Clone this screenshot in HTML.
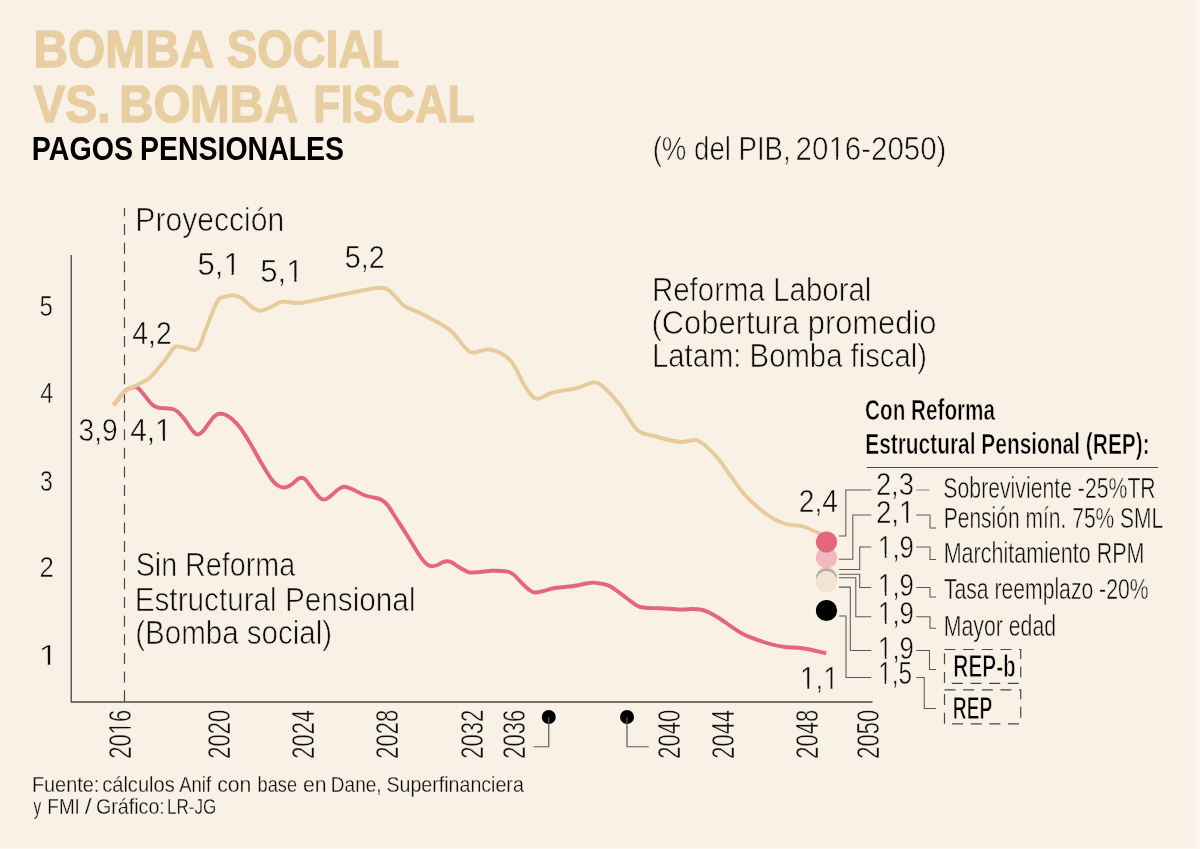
<!DOCTYPE html>
<html><head><meta charset="utf-8"><title>Bomba social vs. bomba fiscal</title>
<style>html,body{margin:0;padding:0;background:#f9f0e6;}svg{display:block;will-change:transform;}text{font-family:"Liberation Sans",sans-serif;}</style>
</head><body>
<svg width="1200" height="849" viewBox="0 0 1200 849">
<rect width="1200" height="849" fill="#f9f0e6"/>
<defs><linearGradient id="eg" x1="0" y1="0" x2="1" y2="0"><stop offset="0" stop-color="#f9f0e6"/><stop offset="0.75" stop-color="#fcf4ef"/><stop offset="1" stop-color="#fdf6f2"/></linearGradient></defs>
<rect x="1192.5" y="0" width="7.5" height="849" fill="url(#eg)"/>
<rect x="0" y="848" width="1200" height="1" fill="#fcf6f0"/>
<path d="M71.25,255 V702 H872.5" fill="none" stroke="#4a4745" stroke-width="1.30"/>
<path d="M124.5,208 V702" fill="none" stroke="#4a4745" stroke-width="1.20" stroke-dasharray="11 7.65" stroke-dashoffset="2.65"/>
<path d="M113.75,405.00 C115.54,402.75 121.79,394.30 124.50,391.50 C127.21,388.70 128.42,388.90 130.00,388.20 C131.58,387.50 132.67,387.33 134.00,387.30 C135.33,387.27 136.17,386.55 138.00,388.00 C139.83,389.45 142.67,393.25 145.00,396.00 C147.33,398.75 149.83,402.57 152.00,404.50 C154.17,406.43 155.67,406.97 158.00,407.60 C160.33,408.23 163.58,408.07 166.00,408.30 C168.42,408.53 170.50,408.38 172.50,409.00 C174.50,409.62 175.92,410.17 178.00,412.00 C180.08,413.83 182.67,417.00 185.00,420.00 C187.33,423.00 190.17,427.67 192.00,430.00 C193.83,432.33 194.75,433.33 196.00,434.00 C197.25,434.67 198.17,434.67 199.50,434.00 C200.83,433.33 201.92,432.50 204.00,430.00 C206.08,427.50 209.83,421.58 212.00,419.00 C214.17,416.42 215.50,415.37 217.00,414.50 C218.50,413.63 219.50,413.72 221.00,413.80 C222.50,413.88 224.17,414.13 226.00,415.00 C227.83,415.87 229.67,416.92 232.00,419.00 C234.33,421.08 237.00,423.50 240.00,427.50 C243.00,431.50 246.25,436.75 250.00,443.00 C253.75,449.25 258.83,458.83 262.50,465.00 C266.17,471.17 269.42,476.58 272.00,480.00 C274.58,483.42 276.25,484.28 278.00,485.50 C279.75,486.72 281.08,487.02 282.50,487.30 C283.92,487.58 284.83,487.79 286.50,487.20 C288.17,486.61 290.58,485.15 292.50,483.75 C294.42,482.35 296.54,479.76 298.00,478.80 C299.46,477.84 300.17,478.00 301.25,478.00 C302.33,478.00 303.25,477.84 304.50,478.80 C305.75,479.76 306.79,481.26 308.75,483.75 C310.71,486.24 314.29,491.32 316.25,493.75 C318.21,496.18 319.25,497.34 320.50,498.30 C321.75,499.26 322.67,499.45 323.75,499.50 C324.83,499.55 325.54,499.43 327.00,498.60 C328.46,497.77 330.67,496.02 332.50,494.50 C334.33,492.98 336.12,490.79 338.00,489.50 C339.88,488.21 341.92,487.03 343.75,486.75 C345.58,486.47 347.12,487.18 349.00,487.80 C350.88,488.43 352.33,489.22 355.00,490.50 C357.67,491.78 361.46,494.25 365.00,495.50 C368.54,496.75 373.33,497.17 376.25,498.00 C379.17,498.83 380.62,499.33 382.50,500.50 C384.38,501.67 385.83,503.00 387.50,505.00 C389.17,507.00 388.75,506.67 392.50,512.50 C396.25,518.33 405.42,532.71 410.00,540.00 C414.58,547.29 417.29,552.29 420.00,556.25 C422.71,560.21 424.38,562.08 426.25,563.75 C428.12,565.42 429.38,566.04 431.25,566.25 C433.12,566.46 435.54,565.71 437.50,565.00 C439.46,564.29 441.33,562.62 443.00,562.00 C444.67,561.38 446.00,561.17 447.50,561.25 C449.00,561.33 450.12,561.54 452.00,562.50 C453.88,563.46 456.58,565.67 458.75,567.00 C460.92,568.33 463.12,569.58 465.00,570.50 C466.88,571.42 467.50,572.25 470.00,572.50 C472.50,572.75 476.25,572.29 480.00,572.00 C483.75,571.71 488.33,570.88 492.50,570.75 C496.67,570.62 501.67,570.75 505.00,571.25 C508.33,571.75 509.58,571.67 512.50,573.75 C515.42,575.83 519.58,580.96 522.50,583.75 C525.42,586.54 527.92,589.04 530.00,590.50 C532.08,591.96 532.92,592.38 535.00,592.50 C537.08,592.62 539.17,592.00 542.50,591.25 C545.83,590.50 549.58,588.92 555.00,588.00 C560.42,587.08 569.83,586.50 575.00,585.75 C580.17,585.00 583.08,584.02 586.00,583.50 C588.92,582.98 590.33,582.63 592.50,582.60 C594.67,582.57 596.08,582.69 599.00,583.30 C601.92,583.91 605.25,583.67 610.00,586.25 C614.75,588.83 623.33,595.71 627.50,598.75 C631.67,601.79 632.92,603.12 635.00,604.50 C637.08,605.88 637.83,606.42 640.00,607.00 C642.17,607.58 644.67,607.79 648.00,608.00 C651.33,608.21 654.67,608.00 660.00,608.25 C665.33,608.50 674.67,609.38 680.00,609.50 C685.33,609.62 688.67,609.00 692.00,609.00 C695.33,609.00 697.33,609.00 700.00,609.50 C702.67,610.00 704.67,610.46 708.00,612.00 C711.33,613.54 714.25,615.12 720.00,618.75 C725.75,622.38 734.58,629.67 742.50,633.75 C750.42,637.83 760.42,641.04 767.50,643.25 C774.58,645.46 779.17,646.17 785.00,647.00 C790.83,647.83 795.62,647.21 802.50,648.25 C809.38,649.29 822.29,652.42 826.25,653.25" fill="none" stroke="#e5667c" stroke-width="3.90" stroke-linejoin="round"/>
<path d="M113.75,405.00 C115.54,402.75 120.96,394.67 124.50,391.50 C128.04,388.33 130.75,388.33 135.00,386.00 C139.25,383.67 145.00,381.83 150.00,377.50 C155.00,373.17 160.83,365.08 165.00,360.00 C169.17,354.92 171.67,349.00 175.00,347.00 C178.33,345.00 181.67,347.50 185.00,348.00 C188.33,348.50 192.50,350.50 195.00,350.00 C197.50,349.50 197.92,349.17 200.00,345.00 C202.08,340.83 204.58,332.33 207.50,325.00 C210.42,317.67 214.58,305.71 217.50,301.00 C220.42,296.29 222.08,297.67 225.00,296.75 C227.92,295.83 232.08,295.17 235.00,295.50 C237.92,295.83 239.58,296.75 242.50,298.75 C245.42,300.75 249.38,305.50 252.50,307.50 C255.62,309.50 258.33,310.75 261.25,310.75 C264.17,310.75 266.46,309.00 270.00,307.50 C273.54,306.00 277.33,302.50 282.50,301.75 C287.67,301.00 293.08,303.79 301.00,303.00 C308.92,302.21 319.75,299.08 330.00,297.00 C340.25,294.92 355.17,291.95 362.50,290.50 C369.83,289.05 370.92,288.77 374.00,288.30 C377.08,287.83 379.00,287.65 381.00,287.70 C383.00,287.75 384.33,287.88 386.00,288.60 C387.67,289.32 389.00,290.18 391.00,292.00 C393.00,293.82 395.67,297.12 398.00,299.50 C400.33,301.88 400.50,303.58 405.00,306.25 C409.50,308.92 417.50,311.54 425.00,315.50 C432.50,319.46 443.33,324.67 450.00,330.00 C456.67,335.33 461.04,343.75 465.00,347.50 C468.96,351.25 469.58,352.17 473.75,352.50 C477.92,352.83 483.96,348.25 490.00,349.50 C496.04,350.75 504.17,353.88 510.00,360.00 C515.83,366.12 520.62,379.79 525.00,386.25 C529.38,392.71 531.67,397.71 536.25,398.75 C540.83,399.79 545.62,394.29 552.50,392.50 C559.38,390.71 570.83,389.67 577.50,388.00 C584.17,386.33 588.33,382.79 592.50,382.50 C596.67,382.21 597.92,382.50 602.50,386.25 C607.08,390.00 614.17,397.71 620.00,405.00 C625.83,412.29 631.67,424.79 637.50,430.00 C643.33,435.21 647.92,434.25 655.00,436.25 C662.08,438.25 672.92,441.29 680.00,442.00 C687.08,442.71 691.67,438.33 697.50,440.50 C703.33,442.67 709.58,449.25 715.00,455.00 C720.42,460.75 725.00,468.33 730.00,475.00 C735.00,481.67 738.75,488.33 745.00,495.00 C751.25,501.67 760.83,510.21 767.50,515.00 C774.17,519.79 779.17,521.88 785.00,523.75 C790.83,525.62 796.67,524.58 802.50,526.25 C808.33,527.92 816.08,531.88 820.00,533.75 C823.92,535.62 825.00,536.88 826.00,537.50" fill="none" stroke="#e8cb9a" stroke-width="3.90" stroke-linejoin="round"/>
<circle cx="548.75" cy="717" r="7" fill="#000"/>
<path d="M548.75,717 V746.75 H533.75" fill="none" stroke="#5c5956" stroke-width="1.20"/>
<circle cx="627" cy="717" r="7" fill="#000"/>
<path d="M627,717 V746.75 H648.75" fill="none" stroke="#5c5956" stroke-width="1.20"/>
<path d="M839,536 H845.8 V490 H871.3" fill="none" stroke="#5c5956" stroke-width="1.05"/>
<path d="M916.3,490 H929.5" fill="none" stroke="#8a8784" stroke-width="1.05"/>
<path d="M839,559.2 H852.8 V515 H871.3" fill="none" stroke="#5c5956" stroke-width="1.05"/>
<path d="M916.3,515 H930 V528 H936" fill="none" stroke="#5c5956" stroke-width="1.05"/>
<path d="M839,569.5 H859.7 V547 H871.3" fill="none" stroke="#5c5956" stroke-width="1.05"/>
<path d="M916.3,547 H930 V559.5 H936" fill="none" stroke="#5c5956" stroke-width="1.05"/>
<path d="M839,574.2 H859.7 V587.5 H871.3" fill="none" stroke="#5c5956" stroke-width="1.05"/>
<path d="M916.3,587.5 H930 V597 H936" fill="none" stroke="#5c5956" stroke-width="1.05"/>
<path d="M839,577.8 H855.8 V616.7 H871.3" fill="none" stroke="#5c5956" stroke-width="1.05"/>
<path d="M916.3,616.7 H930 V628.3 H936" fill="none" stroke="#5c5956" stroke-width="1.05"/>
<path d="M839,587.1 H850.3 V650.5 H871.3" fill="none" stroke="#5c5956" stroke-width="1.05"/>
<path d="M916.3,650.5 H929.5 V669.5 H936" fill="none" stroke="#5c5956" stroke-width="1.05"/>
<path d="M839,616 H846 V677.5 H871.3" fill="none" stroke="#5c5956" stroke-width="1.05"/>
<path d="M916.3,677.5 H924.25 V708.5 H936" fill="none" stroke="#5c5956" stroke-width="1.05"/>
<path d="M866.75,467.5 H1158" fill="none" stroke="#4a4745" stroke-width="1.20"/>
<circle cx="826.5" cy="577.7" r="10.7" fill="#ecd5ae"/>
<circle cx="826.5" cy="578.7" r="10.5" fill="#a9acb0"/>
<circle cx="826.5" cy="581.7" r="10.6" fill="#f2e4d1"/>
<circle cx="826.5" cy="557.8" r="10.6" fill="#f1b8c0"/>
<circle cx="826.5" cy="542.1" r="10.6" fill="#e5667c"/>
<circle cx="826.5" cy="610.5" r="10.6" fill="#000"/>
<rect x="944.5" y="649.5" width="76.2" height="33.8" fill="none" stroke="#4a4745" stroke-width="1.2" stroke-dasharray="11 7.65"/>
<rect x="944.5" y="689.8" width="76.2" height="34" fill="none" stroke="#4a4745" stroke-width="1.2" stroke-dasharray="11 7.65"/>
<g transform="translate(0 67.10)">
<text x="33.45" y="0" font-size="51.00" font-weight="bold" fill="#e8cfa2" textLength="180.91" lengthAdjust="spacingAndGlyphs" stroke="#e8cfa2" stroke-width="1.40" stroke-linejoin="round">BOMBA</text>
</g>
<g transform="translate(0 67.10)">
<text x="226.86" y="0" font-size="51.00" font-weight="bold" fill="#e8cfa2" textLength="172.52" lengthAdjust="spacingAndGlyphs" stroke="#e8cfa2" stroke-width="1.40" stroke-linejoin="round">SOCIAL</text>
</g>
<g transform="translate(0 122.20)">
<text x="33.47" y="0" font-size="51.00" font-weight="bold" fill="#e8cfa2" textLength="77.07" lengthAdjust="spacingAndGlyphs" stroke="#e8cfa2" stroke-width="1.40" stroke-linejoin="round">VS.</text>
</g>
<g transform="translate(0 122.20)">
<text x="119.28" y="0" font-size="51.00" font-weight="bold" fill="#e8cfa2" textLength="178.81" lengthAdjust="spacingAndGlyphs" stroke="#e8cfa2" stroke-width="1.40" stroke-linejoin="round">BOMBA</text>
</g>
<g transform="translate(0 122.20)">
<text x="313.35" y="0" font-size="51.00" font-weight="bold" fill="#e8cfa2" textLength="161.38" lengthAdjust="spacingAndGlyphs" stroke="#e8cfa2" stroke-width="1.40" stroke-linejoin="round">FISCAL</text>
</g>
<g transform="translate(0 159.80)">
<text x="31.78" y="0" font-size="33.20" font-weight="bold" fill="#000" textLength="101.26" lengthAdjust="spacingAndGlyphs">PAGOS</text>
</g>
<g transform="translate(0 159.80)">
<text x="140.04" y="0" font-size="33.20" font-weight="bold" fill="#000" textLength="204.01" lengthAdjust="spacingAndGlyphs">PENSIONALES</text>
</g>
<g transform="translate(0 160.00)">
<text x="652.68" y="0" font-size="33.00" fill="#0e0d0c" textLength="138.03" lengthAdjust="spacingAndGlyphs" stroke="#f9f0e6" stroke-width="0.70">(% del PIB,</text>
</g>
<g transform="translate(0 160.00)">
<text x="795.61" y="0" font-size="33.00" fill="#0e0d0c" textLength="150.78" lengthAdjust="spacingAndGlyphs" stroke="#f9f0e6" stroke-width="0.70">2016-2050)</text>
<rect x="830.12" y="-3.47" width="6.08" height="5.07" fill="#f9f0e6"/>
<rect x="838.01" y="-3.47" width="5.85" height="5.07" fill="#f9f0e6"/>
</g>
<g transform="translate(0 230.75)">
<text x="135.37" y="0" font-size="33.00" fill="#0e0d0c" textLength="148.80" lengthAdjust="spacingAndGlyphs" stroke="#f9f0e6" stroke-width="0.70">Proyección</text>
</g>
<g transform="translate(0 300.50)">
<text x="651.92" y="0" font-size="33.00" fill="#0e0d0c" textLength="219.51" lengthAdjust="spacingAndGlyphs" stroke="#f9f0e6" stroke-width="0.70">Reforma Laboral</text>
</g>
<g transform="translate(0 334.00)">
<text x="651.53" y="0" font-size="33.00" fill="#0e0d0c" textLength="284.97" lengthAdjust="spacingAndGlyphs" stroke="#f9f0e6" stroke-width="0.70">(Cobertura promedio</text>
</g>
<g transform="translate(0 367.25)">
<text x="651.93" y="0" font-size="33.00" fill="#0e0d0c" textLength="275.16" lengthAdjust="spacingAndGlyphs" stroke="#f9f0e6" stroke-width="0.70">Latam: Bomba fiscal)</text>
</g>
<g transform="translate(0 576.00)">
<text x="135.64" y="0" font-size="33.00" fill="#0e0d0c" textLength="159.62" lengthAdjust="spacingAndGlyphs" stroke="#f9f0e6" stroke-width="0.70">Sin Reforma</text>
</g>
<g transform="translate(0 610.50)">
<text x="134.70" y="0" font-size="33.00" fill="#0e0d0c" textLength="280.82" lengthAdjust="spacingAndGlyphs" stroke="#f9f0e6" stroke-width="0.70">Estructural Pensional</text>
</g>
<g transform="translate(0 644.00)">
<text x="135.16" y="0" font-size="33.00" fill="#0e0d0c" textLength="197.05" lengthAdjust="spacingAndGlyphs" stroke="#f9f0e6" stroke-width="0.70">(Bomba social)</text>
</g>
<g transform="translate(0 275.00)">
<text x="197.48" y="0" font-size="30.60" fill="#0e0d0c" textLength="43.25" lengthAdjust="spacingAndGlyphs" stroke="#f9f0e6" stroke-width="0.50">5,1</text>
<rect x="225.25" y="-3.29" width="6.30" height="4.89" fill="#f9f0e6"/>
<rect x="233.70" y="-3.29" width="6.06" height="4.89" fill="#f9f0e6"/>
</g>
<g transform="translate(0 282.00)">
<text x="260.23" y="0" font-size="30.60" fill="#0e0d0c" textLength="43.25" lengthAdjust="spacingAndGlyphs" stroke="#f9f0e6" stroke-width="0.50">5,1</text>
<rect x="288.00" y="-3.29" width="6.30" height="4.89" fill="#f9f0e6"/>
<rect x="296.45" y="-3.29" width="6.06" height="4.89" fill="#f9f0e6"/>
</g>
<g transform="translate(0 268.00)">
<text x="344.83" y="0" font-size="30.60" fill="#0e0d0c" textLength="39.86" lengthAdjust="spacingAndGlyphs" stroke="#f9f0e6" stroke-width="0.50">5,2</text>
</g>
<g transform="translate(0 343.75)">
<text x="132.29" y="0" font-size="30.60" fill="#0e0d0c" textLength="39.38" lengthAdjust="spacingAndGlyphs" stroke="#f9f0e6" stroke-width="0.50">4,2</text>
</g>
<g transform="translate(0 441.00)">
<text x="78.60" y="0" font-size="30.60" fill="#0e0d0c" textLength="39.08" lengthAdjust="spacingAndGlyphs" stroke="#f9f0e6" stroke-width="0.50">3,9</text>
</g>
<g transform="translate(0 441.00)">
<text x="130.26" y="0" font-size="30.60" fill="#0e0d0c" textLength="41.44" lengthAdjust="spacingAndGlyphs" stroke="#f9f0e6" stroke-width="0.50">4,1</text>
<rect x="156.87" y="-3.29" width="6.05" height="4.89" fill="#f9f0e6"/>
<rect x="164.95" y="-3.29" width="5.82" height="4.89" fill="#f9f0e6"/>
</g>
<g transform="translate(0 512.00)">
<text x="798.87" y="0" font-size="30.60" fill="#0e0d0c" textLength="39.10" lengthAdjust="spacingAndGlyphs" stroke="#f9f0e6" stroke-width="0.50">2,4</text>
</g>
<g transform="translate(0 689.25)">
<text x="800.07" y="0" font-size="30.60" fill="#0e0d0c" textLength="38.70" lengthAdjust="spacingAndGlyphs" stroke="#f9f0e6" stroke-width="0.50">1,1</text>
<rect x="801.70" y="-3.29" width="5.67" height="4.89" fill="#f9f0e6"/>
<rect x="809.23" y="-3.29" width="5.45" height="4.89" fill="#f9f0e6"/>
<rect x="824.92" y="-3.29" width="5.67" height="4.89" fill="#f9f0e6"/>
<rect x="832.45" y="-3.29" width="5.45" height="4.89" fill="#f9f0e6"/>
</g>
<g transform="translate(0 315.50)">
<text x="39.49" y="0" font-size="29.80" fill="#0e0d0c" textLength="13.38" lengthAdjust="spacingAndGlyphs" stroke="#f9f0e6" stroke-width="0.50">5</text>
</g>
<g transform="translate(0 403.00)">
<text x="40.36" y="0" font-size="29.80" fill="#0e0d0c" textLength="13.04" lengthAdjust="spacingAndGlyphs" stroke="#f9f0e6" stroke-width="0.50">4</text>
</g>
<g transform="translate(0 490.50)">
<text x="39.98" y="0" font-size="29.80" fill="#0e0d0c" textLength="12.79" lengthAdjust="spacingAndGlyphs" stroke="#f9f0e6" stroke-width="0.50">3</text>
</g>
<g transform="translate(0 577.40)">
<text x="39.55" y="0" font-size="29.80" fill="#0e0d0c" textLength="14.34" lengthAdjust="spacingAndGlyphs" stroke="#f9f0e6" stroke-width="0.50">2</text>
</g>
<g transform="translate(0 664.60)">
<text x="38.55" y="0" font-size="29.80" fill="#0e0d0c" textLength="19.63" lengthAdjust="spacingAndGlyphs" stroke="#f9f0e6" stroke-width="0.50">1</text>
<rect x="40.62" y="-3.23" width="7.11" height="4.83" fill="#f9f0e6"/>
<rect x="50.25" y="-3.23" width="6.83" height="4.83" fill="#f9f0e6"/>
</g>
<g transform="translate(131.40 757.40) rotate(-90)">
<text x="-1.31" y="0" font-size="31.20" fill="#0e0d0c" textLength="49.05" lengthAdjust="spacingAndGlyphs" stroke="#f9f0e6" stroke-width="0.50">2016</text>
<rect x="24.51" y="-3.33" width="4.55" height="4.93" fill="#f9f0e6"/>
<rect x="30.41" y="-3.33" width="4.38" height="4.93" fill="#f9f0e6"/>
</g>
<g transform="translate(229.60 757.40) rotate(-90)">
<text x="-1.31" y="0" font-size="31.20" fill="#0e0d0c" textLength="48.87" lengthAdjust="spacingAndGlyphs" stroke="#f9f0e6" stroke-width="0.50">2020</text>
</g>
<g transform="translate(314.30 757.40) rotate(-90)">
<text x="-1.30" y="0" font-size="31.20" fill="#0e0d0c" textLength="48.69" lengthAdjust="spacingAndGlyphs" stroke="#f9f0e6" stroke-width="0.50">2024</text>
</g>
<g transform="translate(398.30 757.40) rotate(-90)">
<text x="-1.31" y="0" font-size="31.20" fill="#0e0d0c" textLength="48.87" lengthAdjust="spacingAndGlyphs" stroke="#f9f0e6" stroke-width="0.50">2028</text>
</g>
<g transform="translate(482.50 757.40) rotate(-90)">
<text x="-1.31" y="0" font-size="31.20" fill="#0e0d0c" textLength="49.05" lengthAdjust="spacingAndGlyphs" stroke="#f9f0e6" stroke-width="0.50">2032</text>
</g>
<g transform="translate(525.00 757.40) rotate(-90)">
<text x="-1.31" y="0" font-size="31.20" fill="#0e0d0c" textLength="49.05" lengthAdjust="spacingAndGlyphs" stroke="#f9f0e6" stroke-width="0.50">2036</text>
</g>
<g transform="translate(679.50 757.40) rotate(-90)">
<text x="-1.31" y="0" font-size="31.20" fill="#0e0d0c" textLength="48.87" lengthAdjust="spacingAndGlyphs" stroke="#f9f0e6" stroke-width="0.50">2040</text>
</g>
<g transform="translate(734.25 757.40) rotate(-90)">
<text x="-1.30" y="0" font-size="31.20" fill="#0e0d0c" textLength="48.69" lengthAdjust="spacingAndGlyphs" stroke="#f9f0e6" stroke-width="0.50">2044</text>
</g>
<g transform="translate(818.25 757.40) rotate(-90)">
<text x="-1.31" y="0" font-size="31.20" fill="#0e0d0c" textLength="48.87" lengthAdjust="spacingAndGlyphs" stroke="#f9f0e6" stroke-width="0.50">2048</text>
</g>
<g transform="translate(878.75 757.40) rotate(-90)">
<text x="-1.31" y="0" font-size="31.20" fill="#0e0d0c" textLength="48.87" lengthAdjust="spacingAndGlyphs" stroke="#f9f0e6" stroke-width="0.50">2050</text>
</g>
<g transform="translate(0 420.00)">
<text x="865.08" y="0" font-size="29.60" font-weight="bold" fill="#000" textLength="129.93" lengthAdjust="spacingAndGlyphs" stroke="#f9f0e6" stroke-width="0.60">Con Reforma</text>
</g>
<g transform="translate(0 454.00)">
<text x="865.21" y="0" font-size="29.60" font-weight="bold" fill="#000" textLength="284.48" lengthAdjust="spacingAndGlyphs" stroke="#f9f0e6" stroke-width="0.60">Estructural Pensional (REP):</text>
</g>
<g transform="translate(0 495.30)">
<text x="875.91" y="0" font-size="30.60" fill="#0e0d0c" textLength="37.99" lengthAdjust="spacingAndGlyphs" stroke="#f9f0e6" stroke-width="0.50">2,3</text>
</g>
<g transform="translate(0 523.30)">
<text x="875.89" y="0" font-size="30.60" fill="#0e0d0c" textLength="38.69" lengthAdjust="spacingAndGlyphs" stroke="#f9f0e6" stroke-width="0.50">2,1</text>
<rect x="900.72" y="-3.29" width="5.67" height="4.89" fill="#f9f0e6"/>
<rect x="908.25" y="-3.29" width="5.45" height="4.89" fill="#f9f0e6"/>
</g>
<g transform="translate(0 557.50)">
<text x="878.08" y="0" font-size="30.60" fill="#0e0d0c" textLength="35.75" lengthAdjust="spacingAndGlyphs" stroke="#f9f0e6" stroke-width="0.50">1,9</text>
<rect x="879.58" y="-3.29" width="5.26" height="4.89" fill="#f9f0e6"/>
<rect x="886.52" y="-3.29" width="5.06" height="4.89" fill="#f9f0e6"/>
</g>
<g transform="translate(0 595.50)">
<text x="878.08" y="0" font-size="30.60" fill="#0e0d0c" textLength="35.75" lengthAdjust="spacingAndGlyphs" stroke="#f9f0e6" stroke-width="0.50">1,9</text>
<rect x="879.58" y="-3.29" width="5.26" height="4.89" fill="#f9f0e6"/>
<rect x="886.52" y="-3.29" width="5.06" height="4.89" fill="#f9f0e6"/>
</g>
<g transform="translate(0 624.00)">
<text x="878.08" y="0" font-size="30.60" fill="#0e0d0c" textLength="35.75" lengthAdjust="spacingAndGlyphs" stroke="#f9f0e6" stroke-width="0.50">1,9</text>
<rect x="879.58" y="-3.29" width="5.26" height="4.89" fill="#f9f0e6"/>
<rect x="886.52" y="-3.29" width="5.06" height="4.89" fill="#f9f0e6"/>
</g>
<g transform="translate(0 659.00)">
<text x="878.08" y="0" font-size="30.60" fill="#0e0d0c" textLength="35.75" lengthAdjust="spacingAndGlyphs" stroke="#f9f0e6" stroke-width="0.50">1,9</text>
<rect x="879.58" y="-3.29" width="5.26" height="4.89" fill="#f9f0e6"/>
<rect x="886.52" y="-3.29" width="5.06" height="4.89" fill="#f9f0e6"/>
</g>
<g transform="translate(0 684.00)">
<text x="878.21" y="0" font-size="30.60" fill="#0e0d0c" textLength="33.87" lengthAdjust="spacingAndGlyphs" stroke="#f9f0e6" stroke-width="0.50">1,5</text>
<rect x="879.63" y="-3.29" width="5.00" height="4.89" fill="#f9f0e6"/>
<rect x="886.19" y="-3.29" width="4.81" height="4.89" fill="#f9f0e6"/>
</g>
<g transform="translate(0 498.00)">
<text x="943.37" y="0" font-size="30.20" fill="#0e0d0c" textLength="212.34" lengthAdjust="spacingAndGlyphs" stroke="#f9f0e6" stroke-width="0.50">Sobreviviente -25%TR</text>
</g>
<g transform="translate(0 528.00)">
<text x="943.68" y="0" font-size="30.20" fill="#0e0d0c" textLength="219.64" lengthAdjust="spacingAndGlyphs" stroke="#f9f0e6" stroke-width="0.50">Pensión mín. 75% SML</text>
</g>
<g transform="translate(0 563.00)">
<text x="943.65" y="0" font-size="30.20" fill="#0e0d0c" textLength="200.84" lengthAdjust="spacingAndGlyphs" stroke="#f9f0e6" stroke-width="0.50">Marchitamiento RPM</text>
</g>
<g transform="translate(0 599.25)">
<text x="943.90" y="0" font-size="30.20" fill="#0e0d0c" textLength="204.60" lengthAdjust="spacingAndGlyphs" stroke="#f9f0e6" stroke-width="0.50">Tasa reemplazo -20%</text>
</g>
<g transform="translate(0 635.50)">
<text x="943.66" y="0" font-size="30.20" fill="#0e0d0c" textLength="112.48" lengthAdjust="spacingAndGlyphs" stroke="#f9f0e6" stroke-width="0.50">Mayor edad</text>
</g>
<g transform="translate(0 676.60)">
<text x="953.37" y="0" font-size="31.40" font-weight="bold" fill="#000" textLength="62.42" lengthAdjust="spacingAndGlyphs" stroke="#f9f0e6" stroke-width="1.00">REP-b</text>
</g>
<g transform="translate(0 718.60)">
<text x="952.87" y="0" font-size="31.40" font-weight="bold" fill="#000" textLength="39.58" lengthAdjust="spacingAndGlyphs" stroke="#f9f0e6" stroke-width="1.00">REP</text>
</g>
<g transform="translate(0 791.70)">
<text x="31.90" y="0" font-size="22.40" fill="#0e0d0c" textLength="67.39" lengthAdjust="spacingAndGlyphs" stroke="#f9f0e6" stroke-width="0.30">Fuente:</text>
</g>
<g transform="translate(0 791.70)">
<text x="102.18" y="0" font-size="22.40" fill="#0e0d0c" textLength="72.58" lengthAdjust="spacingAndGlyphs" stroke="#f9f0e6" stroke-width="0.30">cálculos</text>
</g>
<g transform="translate(0 791.70)">
<text x="179.25" y="0" font-size="22.40" fill="#0e0d0c" textLength="31.77" lengthAdjust="spacingAndGlyphs" stroke="#f9f0e6" stroke-width="0.30">Anif</text>
</g>
<g transform="translate(0 791.70)">
<text x="217.14" y="0" font-size="22.40" fill="#0e0d0c" textLength="34.31" lengthAdjust="spacingAndGlyphs" stroke="#f9f0e6" stroke-width="0.30">con</text>
</g>
<g transform="translate(0 791.70)">
<text x="257.58" y="0" font-size="22.40" fill="#0e0d0c" textLength="39.48" lengthAdjust="spacingAndGlyphs" stroke="#f9f0e6" stroke-width="0.30">base</text>
</g>
<g transform="translate(0 791.70)">
<text x="302.89" y="0" font-size="22.40" fill="#0e0d0c" textLength="23.60" lengthAdjust="spacingAndGlyphs" stroke="#f9f0e6" stroke-width="0.30">en</text>
</g>
<g transform="translate(0 791.70)">
<text x="330.86" y="0" font-size="22.40" fill="#0e0d0c" textLength="50.79" lengthAdjust="spacingAndGlyphs" stroke="#f9f0e6" stroke-width="0.30">Dane,</text>
</g>
<g transform="translate(0 791.70)">
<text x="386.47" y="0" font-size="22.40" fill="#0e0d0c" textLength="137.33" lengthAdjust="spacingAndGlyphs" stroke="#f9f0e6" stroke-width="0.30">Superfinanciera</text>
</g>
<g transform="translate(0 814.20)">
<text x="33.45" y="0" font-size="22.40" fill="#0e0d0c" textLength="7.67" lengthAdjust="spacingAndGlyphs" stroke="#f9f0e6" stroke-width="0.30">y</text>
</g>
<g transform="translate(0 814.20)">
<text x="47.37" y="0" font-size="22.40" fill="#0e0d0c" textLength="32.52" lengthAdjust="spacingAndGlyphs" stroke="#f9f0e6" stroke-width="0.30">FMI</text>
</g>
<g transform="translate(0 814.20)">
<text x="84.85" y="0" font-size="22.40" fill="#0e0d0c" textLength="6.87" lengthAdjust="spacingAndGlyphs" stroke="#f9f0e6" stroke-width="0.30">/</text>
</g>
<g transform="translate(0 814.20)">
<text x="95.97" y="0" font-size="22.40" fill="#0e0d0c" textLength="68.86" lengthAdjust="spacingAndGlyphs" stroke="#f9f0e6" stroke-width="0.30">Gráfico:</text>
</g>
<g transform="translate(0 814.20)">
<text x="166.92" y="0" font-size="22.40" fill="#0e0d0c" textLength="49.35" lengthAdjust="spacingAndGlyphs" stroke="#f9f0e6" stroke-width="0.30">LR-JG</text>
</g>
</svg>
</body></html>
